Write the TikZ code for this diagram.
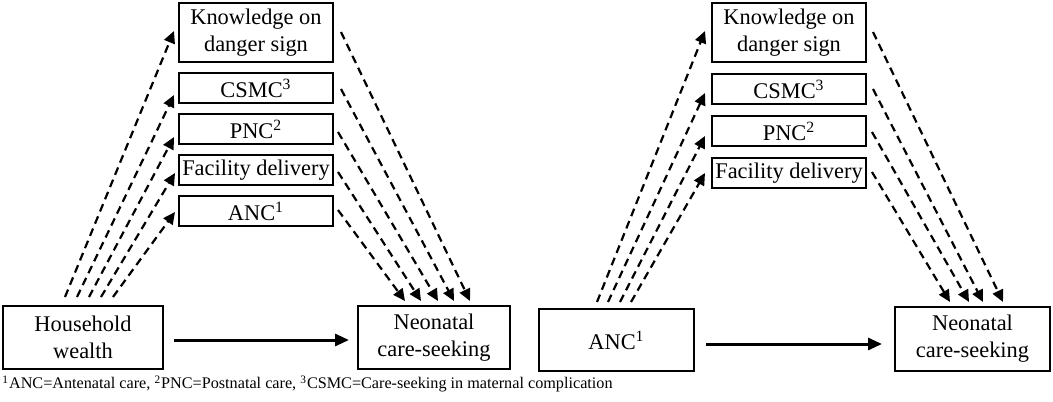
\documentclass[tikz,border=0pt]{standalone}
\usepackage{fontspec}
\setmainfont{Liberation Serif}
\usetikzlibrary{arrows.meta}
\begin{document}
\begin{tikzpicture}[x=0.5pt,y=-0.5pt,
  box/.style={draw,line width=1pt,inner sep=0pt,align=center,font=\fontsize{11.2}{13.5}\selectfont},
  dasharrow/.style={line width=1.1pt,dash pattern=on 4pt off 2.6pt,-{Triangle[length=6pt,width=5.6pt]}},
  solidarrow/.style={line width=1.5pt,-{Triangle[length=7pt,width=6pt]}}]
\useasboundingbox (0,0) rectangle (1053,401);
% left panel
\node[box,minimum width=77pt,minimum height=29.5pt] (lk) at (256,32.5) {Knowledge on\\danger sign};
\node[box,minimum width=77pt,minimum height=15pt] (lcs) at (256,88) {CSMC\textsuperscript{3}};
\node[box,minimum width=77pt,minimum height=15pt] (lpnc) at (256,129) {PNC\textsuperscript{2}};
\node[box,minimum width=77pt,minimum height=15pt] (lfd) at (256,170) {Facility delivery};
\node[box,minimum width=77pt,minimum height=15pt] (lanc) at (256,211) {ANC\textsuperscript{1}};
\node[box,minimum width=80pt,minimum height=31.5pt] (hw) at (83,337.5) {Household\\wealth};
\node[box,minimum width=76pt,minimum height=31.5pt] (lnc) at (434,337.5) {Neonatal\\care-seeking};
\draw[solidarrow] (hw.east|-0,340) ++(10,0) -- ([xshift=-4pt]lnc.west|-0,340);
% left up coordinates
\coordinate (hw1) at (65,297); \coordinate (hw2) at (77,297); \coordinate (hw3) at (89,297);
\coordinate (hw4) at (101,297); \coordinate (hw5) at (113,297);
\coordinate (lkin) at (174,31); \coordinate (lcsin) at (174,95); \coordinate (lpncin) at (174,137);
\coordinate (lfdin) at (175,173); \coordinate (lancin) at (175,212);
\draw[dasharrow] (hw1) -- (lkin);
\draw[dasharrow] (hw2) -- (lcsin);
\draw[dasharrow] (hw3) -- (lpncin);
\draw[dasharrow] (hw4) -- (lfdin);
\draw[dasharrow] (hw5) -- (lancin);
% left down
\coordinate (lkout) at (341,32); \coordinate (lcsout) at (341,89); \coordinate (lpncout) at (338,132);
\coordinate (lfdout) at (338,172); \coordinate (lancout) at (338,210);
\coordinate (lnc1) at (470,301); \coordinate (lnc2) at (454,301); \coordinate (lnc3) at (438,301);
\coordinate (lnc4) at (421,301); \coordinate (lnc5) at (405,301);
\draw[dasharrow] (lkout) -- (lnc1);
\draw[dasharrow] (lcsout) -- (lnc2);
\draw[dasharrow] (lpncout) -- (lnc3);
\draw[dasharrow] (lfdout) -- (lnc4);
\draw[dasharrow] (lancout) -- (lnc5);
% right panel
\node[box,minimum width=77pt,minimum height=29.5pt] (rk) at (789,32.5) {Knowledge on\\danger sign};
\node[box,minimum width=77pt,minimum height=15pt] (rcs) at (789,89.5) {CSMC\textsuperscript{3}};
\node[box,minimum width=77pt,minimum height=15pt] (rpnc) at (789,131) {PNC\textsuperscript{2}};
\node[box,minimum width=77pt,minimum height=15pt] (rfd) at (789,173) {Facility delivery};
\node[box,minimum width=77.5pt,minimum height=31pt] (ranc) at (616.5,340) {ANC\textsuperscript{1}};
\node[box,minimum width=77.5pt,minimum height=32pt] (rnc) at (972.5,339) {Neonatal\\care-seeking};
\draw[solidarrow] (ranc.east|-0,344) ++(11,0) -- ([xshift=-6pt]rnc.west|-0,344);
\coordinate (ra1) at (597,302); \coordinate (ra2) at (608,302); \coordinate (ra3) at (620,302);
\coordinate (ra4) at (631,302);
\coordinate (rkin) at (705,31); \coordinate (rcsin) at (705,93); \coordinate (rpncin) at (705,136);
\coordinate (rfdin) at (705,173);
\draw[dasharrow] (ra1) -- (rkin);
\draw[dasharrow] (ra2) -- (rcsin);
\draw[dasharrow] (ra3) -- (rpncin);
\draw[dasharrow] (ra4) -- (rfdin);
\coordinate (rkout) at (873,32); \coordinate (rcsout) at (873,89); \coordinate (rpncout) at (872,132);
\coordinate (rfdout) at (872,172);
\coordinate (rnc1) at (1003,302); \coordinate (rnc2) at (983,302); \coordinate (rnc3) at (969,302);
\coordinate (rnc4) at (950,302);
\draw[dasharrow] (rkout) -- (rnc1);
\draw[dasharrow] (rcsout) -- (rnc2);
\draw[dasharrow] (rpncout) -- (rnc3);
\draw[dasharrow] (rfdout) -- (rnc4);
% footnote
\node[anchor=west,inner sep=0pt,font=\fontsize{8.1}{9.5}\selectfont] (fn) at (2,384)
 {\textsuperscript{1}ANC=Antenatal care, \textsuperscript{2}PNC=Postnatal care, \textsuperscript{3}CSMC=Care-seeking in maternal complication};
\end{tikzpicture}
\end{document}
